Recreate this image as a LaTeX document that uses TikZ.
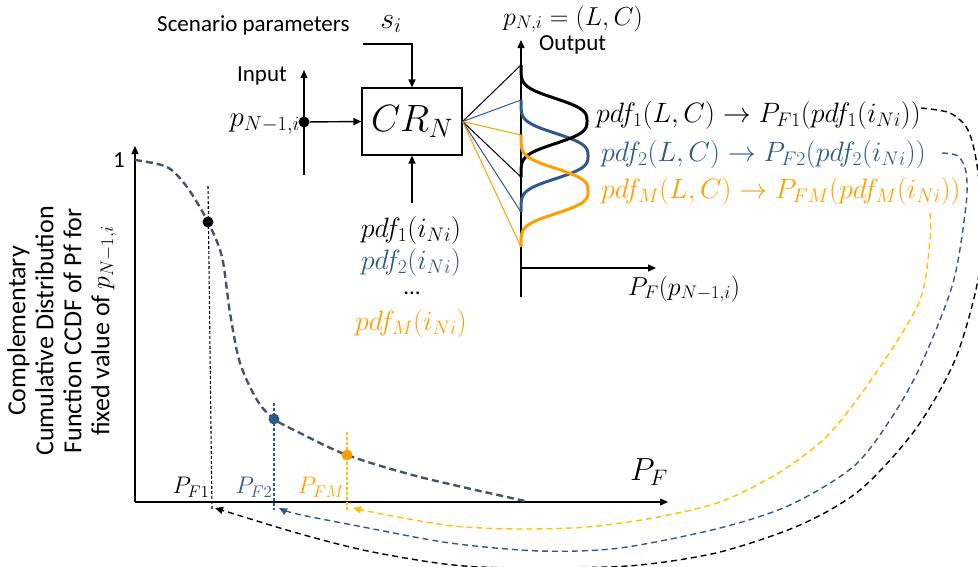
\RequirePackage{fix-cm}
\documentclass[tikz,border=0pt]{standalone}
\usepackage[no-math]{fontspec}
\setmainfont{Carlito}
\usetikzlibrary{arrows.meta}
\definecolor{bl}{HTML}{2E5A8A}
\definecolor{og}{HTML}{FF9E00}
\definecolor{gd}{HTML}{FFC000}
\definecolor{sl}{HTML}{44546A}
\tikzset{
  arr/.style={-{Triangle[length=8pt,width=7pt]}, line width=1.4pt},
  txt/.style={font=\fontsize{23}{28}\selectfont, inner sep=0pt},
  mth/.style={font=\fontsize{26}{30}\selectfont, inner sep=0pt},
  mthb/.style={font=\fontsize{28}{32}\selectfont, inner sep=0pt},
  ptdot/.style={circle, fill, inner sep=0pt, minimum size=11pt},
  fanline/.style={line width=1pt},
  bell/.style={line width=3pt},
  backarc/.style={dash pattern=on 6pt off 4pt, line width=1.4pt, -{Triangle[length=8pt,width=7pt]}},
  vdash/.style={dash pattern=on 3pt off 2pt, line width=1.1pt},
  pflab/.style={font=\fontsize{24}{28}\selectfont, inner sep=0pt},
}
\begin{document}
\begin{tikzpicture}[x=1pt,y=-1pt]
\clip (0,0) rectangle (978,566);
\useasboundingbox (0,0) rectangle (978,566);

% ---------- top block ----------
\node[txt, anchor=west] (scen) at (157,25) {Scenario parameters};
\node[font=\fontsize{30}{34}\selectfont, inner sep=0pt] (si) at (391,24) {$s_i$};
\node[draw, line width=1.2pt, minimum width=100pt, minimum height=67pt, inner sep=0pt,
      font=\fontsize{38}{40}\selectfont] (cr) at (412,121.5) {$CR_N$};
\coordinate (sis) at (363,44);
\draw[arr] (sis) -| (cr.north);

\coordinate (intop) at (304,70);
\coordinate (inbot) at (304,175);
\draw[arr] (inbot) -- (intop);
\node[ptdot] (pin) at (304,122) {};
\draw[arr] (pin) -- (cr.west);
\node[txt] (input) at (262,76) {Input};
\node[font=\fontsize{29}{32}\selectfont, inner sep=0pt, anchor=east] (pn1) at (300,124) {$p_{N-1,i}$};

\node[mthb] (pd1) at (411,230) {$pdf_1(i_{Ni})$};
\node[mthb, text=bl] (pd2) at (411,262) {$pdf_2(i_{Ni})$};
\node[txt] (pdd) at (412,293) {\ldots};
\node[mthb, text=og] (pdm) at (411,323) {$pdf_M(i_{Ni})$};
\coordinate (pdarr) at (412,203);
\draw[arr] (pdarr) -- (cr.south);

% ---------- output axes ----------
\coordinate (oo) at (521,268);
\coordinate (otop) at (521,40);
\coordinate (obot) at (521,297);
\coordinate (oright) at (656,268);
\draw[arr] (obot) -- (otop);
\draw[arr] (oo) -- (oright);
\node[txt, anchor=west] (outl) at (539,45) {Output};
\node[mth] (pni) at (573,19) {$p_{N,i}=(L,C)$};
\node[mth] (pfp) at (684,289) {$P_F(p_{N-1,i})$};

% fan
\coordinate (f1) at (521,65);
\coordinate (f2) at (521,100);
\coordinate (f3) at (521,135);
\coordinate (f4) at (521,177);
\coordinate (f5) at (521,212);
\coordinate (f6) at (521,247);
\draw[fanline, black] (cr.east) -- (f1);
\draw[fanline, bl] (cr.east) -- (f2);
\draw[fanline, og] (cr.east) -- (f3);
\draw[fanline, black] (cr.east) -- (f4);
\draw[fanline, bl] (cr.east) -- (f5);
\draw[fanline, og] (cr.east) -- (f6);

% bells
\draw[bell, bl] plot[domain=100:212, samples=90]
  ({521+67*exp(-((\x-156)/26)*((\x-156)/26)*abs((\x-156)/26))},\x);
\draw[bell, black] plot[domain=65:177, samples=90]
  ({521+66*exp(-((\x-121)/26)*((\x-121)/26)*abs((\x-121)/26))},\x);
\draw[bell, og] plot[domain=135:247, samples=90]
  ({521+67*exp(-((\x-191)/26)*((\x-191)/26)*abs((\x-191)/26))},\x);

% right labels
\node[mthb, anchor=west] (r1) at (596,115) {$pdf_1(L,C)\rightarrow P_{F1}(pdf_1(i_{Ni}))$};
\node[mthb, anchor=west, text=bl] (r2) at (601,154) {$pdf_2(L,C)\rightarrow P_{F2}(pdf_2(i_{Ni}))$};
\node[mthb, anchor=west, text=og] (r3) at (601,191) {$pdf_M(L,C)\rightarrow P_{FM}(pdf_M(i_{Ni}))$};

% ---------- CCDF plot ----------
\coordinate (org) at (135,502);
\coordinate (ytop) at (135,146);
\coordinate (xend) at (668,502);
\draw[arr] (org) -- (ytop);
\draw[arr] (org) -- (xend);
\node[txt] (one) at (119,160) {1};
\node[font=\fontsize{32}{36}\selectfont, inner sep=0pt] (pfl) at (649,472) {$P_F$};
\node[font=\fontsize{26}{28}\selectfont, inner sep=0pt, rotate=90, align=center] (ylab) at (62,331)
  {Complementary\\Cumulative Distribution\\Function CCDF of Pf for\\fixed value of $p_{N-1,i}$};

\coordinate (d1) at (208,222);
\coordinate (d2) at (274,419);
\coordinate (d3) at (347,455);
\coordinate (cs) at (135,160);
\coordinate (ce) at (525,501);

\coordinate (v1t) at (208,186); \coordinate (v1b) at (212,510);
\coordinate (v2t) at (274,403); \coordinate (v2b) at (274,510);
\coordinate (v3t) at (347,432); \coordinate (v3b) at (347,510);
\draw[vdash, black] (v1t) -- (v1b);
\draw[vdash, bl] (v2t) -- (v2b);
\draw[vdash, gd] (v3t) -- (v3b);

\draw[sl, line width=2.4pt, dash pattern=on 7pt off 4pt] plot[smooth] coordinates
  {(cs) (167,167) (187,187) (d1) (222,257) (230,313) (240,363) (257,400) (d2) (300,433) (d3) (420,477) (ce)};

\node[ptdot, black] (p1) at (d1) {};
\node[ptdot, bl] (p2) at (d2) {};
\node[ptdot, og] (p3) at (d3) {};

\node[pflab] (pf1) at (191,487) {$P_{F1}$};
\node[pflab, text=bl] (pf2) at (254,487) {$P_{F2}$};
\node[pflab, text=og] (pfm) at (321,487) {$P_{FM}$};

% ---------- back arcs ----------
\coordinate (a1s) at (921,108);
\coordinate (a1e) at (215,508);
\coordinate (a2s) at (942,153);
\coordinate (a2e) at (279,508);
\coordinate (a3s) at (930,213);
\coordinate (a3e) at (353,508);
\draw[backarc, black] plot[smooth] coordinates
  {(a1s) (950,113) (968,130) (977,165) (982,220) (978,280) (955,360) (915,430) (860,490) (800,525) (720,552) (640,565) (560,568) (480,567) (430,562) (363,550) (297,533) (a1e)};
\draw[backarc, bl] plot[smooth] coordinates
  {(a2s) (958,156) (966,172) (966,205) (953,283) (920,367) (890,420) (853,467) (790,505) (720,528) (620,548) (540,551) (450,543) (363,527) (297,514) (a2e)};
\draw[backarc, gd] plot[smooth] coordinates
  {(a3s) (930,240) (920,300) (880,367) (830,433) (780,472) (720,502) (653,518) (587,527) (520,529) (453,526) (387,515) (a3e)};
\end{tikzpicture}
\end{document}
